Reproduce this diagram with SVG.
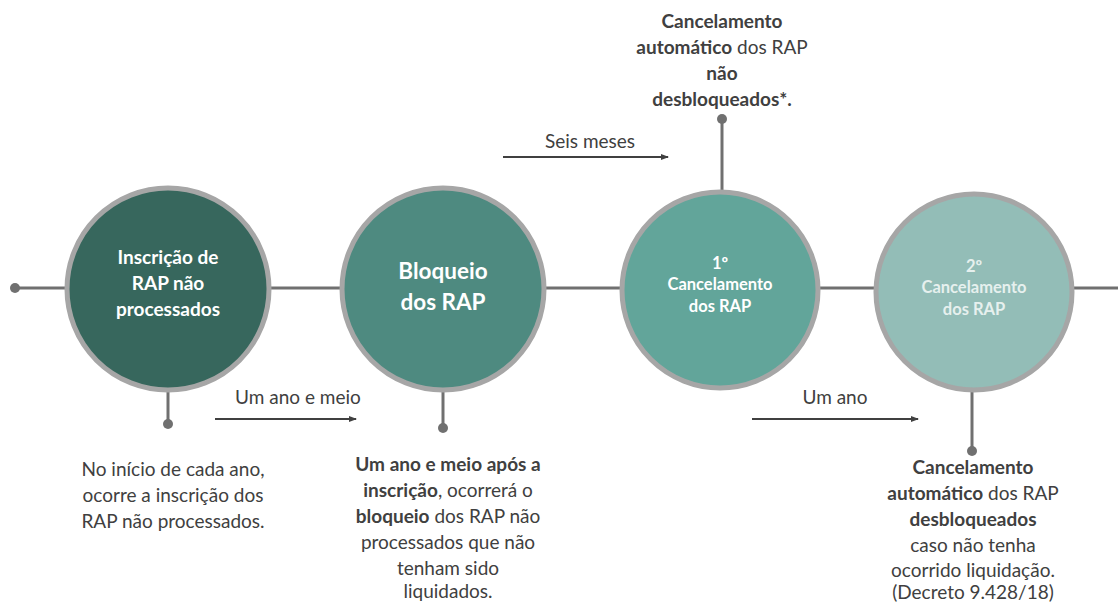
<svg xmlns="http://www.w3.org/2000/svg" width="1118" height="604" viewBox="0 0 1118 604">
<defs>
<marker id="ah" markerWidth="8" markerHeight="8" refX="7" refY="4" orient="auto" markerUnits="userSpaceOnUse">
<path d="M0,1 L8,4 L0,7 Z" fill="#404040"/>
</marker>
<style>
.ln{stroke:#707070;stroke-width:3;fill:none}
.dot{fill:#707070}
.arr{stroke:#404040;stroke-width:2;fill:none;marker-end:url(#ah)}
.circ{stroke:#A6A6A6;stroke-width:5}
.t{font-family:Lato,"Open Sans",sans-serif;font-size:19px;fill:#404040;text-anchor:middle}
.b{font-weight:bold}
.ct{font-family:Lato,"Open Sans",sans-serif;font-weight:bold;fill:#ffffff;text-anchor:middle}
.lt{fill:#E6F0EE}
</style>
</defs>
<rect width="1118" height="604" fill="#ffffff"/>
<g id="connectors">
<line class="ln" x1="15" y1="288" x2="1118" y2="288"/>
<circle class="dot" cx="15" cy="288" r="5"/>
<line class="ln" x1="168" y1="380" x2="168" y2="424"/>
<circle class="dot" cx="168" cy="424" r="5"/>
<line class="ln" x1="443" y1="380" x2="443" y2="428"/>
<circle class="dot" cx="443" cy="428" r="5"/>
<line class="ln" x1="722" y1="119" x2="722" y2="200"/>
<circle class="dot" cx="722" cy="119" r="5"/>
<line class="ln" x1="972" y1="380" x2="972" y2="451"/>
<circle class="dot" cx="972" cy="451" r="5"/>
<line class="arr" x1="215" y1="419" x2="356" y2="419"/>
<line class="arr" x1="503" y1="157" x2="668" y2="157"/>
<line class="arr" x1="752" y1="419" x2="918" y2="419"/>
<text class="t" x="298" y="404">Um ano e meio</text>
<text class="t" x="590" y="148">Seis meses</text>
<text class="t" x="835" y="404">Um ano</text>
</g>
<g id="n1">
<circle class="circ" cx="168" cy="289" r="101" fill="#37675D"/>
<text class="ct" font-size="19" x="168" y="264">Inscrição de</text>
<text class="ct" font-size="19" x="168" y="290">RAP não</text>
<text class="ct" font-size="19" x="168" y="316">processados</text>
</g>
<g id="n2">
<circle class="circ" cx="443" cy="289" r="101" fill="#4E8A80"/>
<text class="ct" font-size="22.5" x="443" y="279">Bloqueio</text>
<text class="ct" font-size="22.5" x="443" y="310">dos RAP</text>
</g>
<g id="n3">
<circle class="circ" cx="720" cy="290" r="98" fill="#62A59A"/>
<text class="ct" font-size="16.5" x="720" y="269">1º</text>
<text class="ct" font-size="16.5" x="720" y="290">Cancelamento</text>
<text class="ct" font-size="16.5" x="720" y="312">dos RAP</text>
</g>
<g id="n4">
<circle class="circ" cx="974" cy="292" r="98" fill="#93BDB7"/>
<text class="ct lt" font-size="16.5" x="974" y="272">2º</text>
<text class="ct lt" font-size="16.5" x="974" y="293">Cancelamento</text>
<text class="ct lt" font-size="16.5" x="974" y="315">dos RAP</text>
</g>
<g id="top-note">
<text class="t b" x="722" y="28">Cancelamento</text>
<text class="t" x="722" y="54"><tspan class="b">automático</tspan> dos RAP</text>
<text class="t b" x="722" y="80">não</text>
<text class="t b" x="722" y="106">desbloqueados*.</text>
</g>
<g id="note1">
<text class="t" x="173" y="476">No início de cada ano,</text>
<text class="t" x="173" y="502">ocorre a inscrição dos</text>
<text class="t" x="173" y="528">RAP não processados.</text>
</g>
<g id="note2">
<text class="t b" x="448" y="471">Um ano e meio após a</text>
<text class="t" x="448" y="497"><tspan class="b">inscrição</tspan>, ocorrerá o</text>
<text class="t" x="448" y="523"><tspan class="b">bloqueio</tspan> dos RAP não</text>
<text class="t" x="448" y="549">processados que não</text>
<text class="t" x="448" y="575">tenham sido</text>
<text class="t" x="448" y="598">liquidados.</text>
</g>
<g id="note3">
<text class="t b" x="973" y="474">Cancelamento</text>
<text class="t" x="973" y="500"><tspan class="b">automático</tspan> dos RAP</text>
<text class="t b" x="973" y="526">desbloqueados</text>
<text class="t" x="973" y="552">caso não tenha</text>
<text class="t" x="973" y="577">ocorrido liquidação.</text>
<text class="t" x="973" y="599">(Decreto 9.428/18)</text>
</g>
</svg>
